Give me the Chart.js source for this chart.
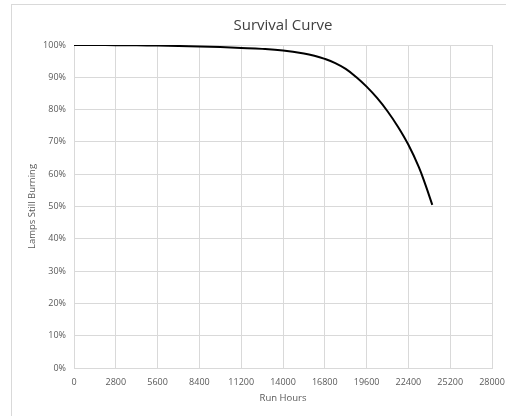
<!DOCTYPE html>
<html lang="en">
<head>
    <meta charset="UTF-8">
    <script src="https://cdn.jsdelivr.net/npm/chart.js"></script>
    <title>Survival Curve</title>
    <style>
        body { margin: 0; overflow: hidden; background: #fff; }
        #wrap { position: relative; width: 506px; height: 416px; }
        #frame { position: absolute; left: 11px; top: 4px; width: 520px; height: 430px;
                 border-left: 1px solid #d9d9d9; border-top: 1px solid #d9d9d9; }
        #myChart { position: absolute; left: 0; top: 0; }
    </style>
</head>
<body>
<div id="wrap">
    <div id="frame"></div>
    <canvas id="myChart" width="506" height="416"></canvas>
</div>
<script>
// run hours and % of lamps still burning
const hours = [0, 1400, 2800, 4200, 5600, 7000, 8400, 9800, 11200, 12600, 14000,
               15400, 16100, 16800, 17500, 18200, 18900, 19600, 20300, 21000,
               21700, 22400, 23100, 23550, 24000];
const survival = [100, 100, 99.96, 99.9, 99.82, 99.7, 99.55, 99.35, 99.1, 98.8, 98.3,
                  97.4, 96.7, 95.7, 94.4, 92.6, 90.1, 87.1, 83.6, 79.5,
                  74.7, 69.1, 62.2, 56.6, 50.5];
const xTicks = [0, 2800, 5600, 8400, 11200, 14000, 16800, 19600, 22400, 25200, 28000];
const yTicks = [0, 10, 20, 30, 40, 50, 60, 70, 80, 90, 100];

const grey = '#d9d9d9';
const labelColor = '#595959';
const font = 'Open Sans';

const ctx = document.getElementById('myChart').getContext('2d');
new Chart(ctx, {
  type: 'line',
  data: {
    datasets: [{
      label: 'Lamps Still Burning',
      data: hours.map((h, i) => ({ x: h, y: survival[i] })),
      borderColor: '#000',
      borderWidth: 2,
      pointRadius: 0,
      fill: false,
      tension: 0.4
    }]
  },
  options: {
    responsive: false,
    animation: false,
    layout: { padding: { left: 0, top: 0, right: 14, bottom: 0 } },
    plugins: {
      legend: { display: false },
      tooltip: { enabled: false },
      title: {
        display: true,
        text: 'Survival Curve',
        fullSize: false,
        color: '#404040',
        font: { family: font, size: 15, weight: 'normal' },
        padding: { top: 17, bottom: 10 }
      }
    },
    scales: {
      x: {
        type: 'linear',
        min: 0,
        max: 28000,
        afterBuildTicks: s => { s.ticks = xTicks.map(v => ({ value: v })); },
        afterFit: s => { s.height = 48; s.paddingLeft = 0; s.paddingRight = 0; },
        grid: { color: grey, drawTicks: false },
        border: { color: grey },
        ticks: { color: labelColor, font: { family: font, size: 9 }, padding: 9, maxRotation: 0,
                 callback: v => String(v) },
        title: { display: true, text: 'Run Hours', color: labelColor,
                 font: { family: font, size: 9.5 }, padding: { top: 0, bottom: 12 } }
      },
      y: {
        min: 0,
        max: 100,
        afterBuildTicks: s => { s.ticks = yTicks.map(v => ({ value: v })); },
        afterFit: s => { s.width = 74; },
        grid: { color: grey, drawTicks: false },
        border: { color: grey },
        ticks: { color: labelColor, font: { family: font, size: 9 }, padding: 8,
                 callback: v => v + '%' },
        title: { display: true, text: 'Lamps Still Burning', color: labelColor,
                 font: { family: font, size: 9.5 }, padding: { top: 27, bottom: 0 } }
      }
    }
  }
});
</script>
</body>
</html>
